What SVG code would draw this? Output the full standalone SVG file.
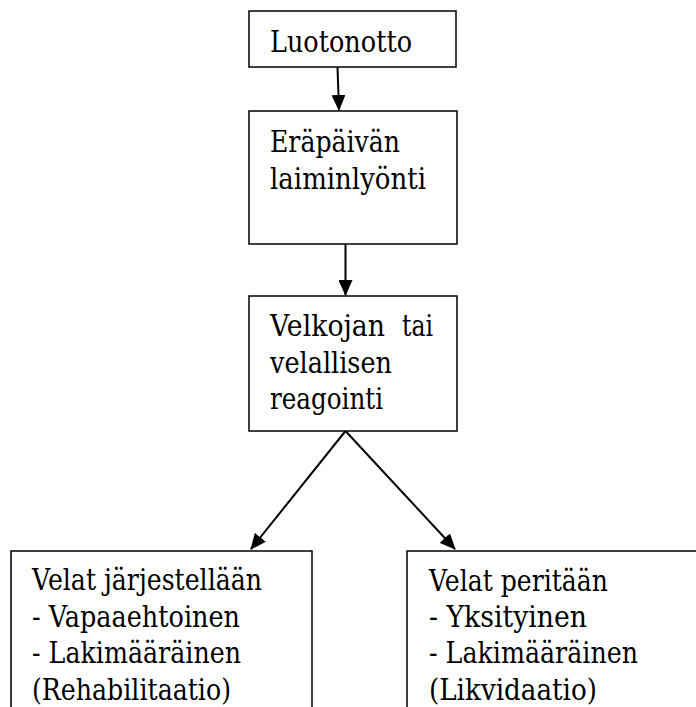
<svg xmlns="http://www.w3.org/2000/svg" width="696" height="707" viewBox="0 0 696 707">
<style>
.box{fill:#fff;stroke:#000;stroke-width:1.5}
.c{stroke:#000;stroke-width:2;fill:none}
text{font-family:'DejaVu Serif',serif;font-size:29px;fill:#000}
</style>
<defs>
<marker id="ah" markerWidth="16" markerHeight="14" refX="15" refY="7" orient="auto" markerUnits="userSpaceOnUse" viewBox="0 0 16 14">
<path d="M0,0 L16,7 L0,14 Z" fill="#000"/>
</marker>
</defs>
<rect width="696" height="707" fill="#fff"/>
<g id="connectors">
<line class="c" x1="337.5" y1="67" x2="339" y2="110" marker-end="url(#ah)"/>
<line class="c" x1="345.5" y1="244" x2="345.5" y2="295" marker-end="url(#ah)"/>
<line class="c" x1="345.5" y1="431" x2="251" y2="549" marker-end="url(#ah)"/>
<line class="c" x1="345.5" y1="431" x2="455" y2="549" marker-end="url(#ah)"/>
</g>
<g id="n1">
<rect class="box" x="249" y="11" width="207" height="56"/>
<text x="270" y="52" textLength="142" lengthAdjust="spacingAndGlyphs">Luotonotto</text>
</g>
<g id="n2">
<rect class="box" x="249" y="111" width="208" height="133"/>
<text x="270" y="152" textLength="130" lengthAdjust="spacingAndGlyphs">Eräpäivän</text>
<text x="270" y="189" textLength="156" lengthAdjust="spacingAndGlyphs">laiminlyönti</text>
</g>
<g id="n3">
<rect class="box" x="249" y="296" width="208" height="135"/>
<text x="270" y="336" textLength="115" lengthAdjust="spacingAndGlyphs">Velkojan</text>
<text x="402" y="336" textLength="31" lengthAdjust="spacingAndGlyphs">tai</text>
<text x="270" y="373" textLength="122" lengthAdjust="spacingAndGlyphs">velallisen</text>
<text x="270" y="409" textLength="113" lengthAdjust="spacingAndGlyphs">reagointi</text>
</g>
<g id="n4">
<path class="box" d="M11,708 L11,551 L312,551 L312,708"/>
<text x="32" y="590" textLength="230" lengthAdjust="spacingAndGlyphs">Velat järjestellään</text>
<text x="32" y="627" textLength="208" lengthAdjust="spacingAndGlyphs">- Vapaaehtoinen</text>
<text x="32" y="663" textLength="209" lengthAdjust="spacingAndGlyphs">- Lakimääräinen</text>
<text x="32" y="700" textLength="199" lengthAdjust="spacingAndGlyphs">(Rehabilitaatio)</text>
</g>
<g id="n5">
<path class="box" d="M407,708 L407,551 L697,551"/>
<text x="429" y="591" textLength="179" lengthAdjust="spacingAndGlyphs">Velat peritään</text>
<text x="429" y="627" textLength="158" lengthAdjust="spacingAndGlyphs">- Yksityinen</text>
<text x="429" y="663" textLength="209" lengthAdjust="spacingAndGlyphs">- Lakimääräinen</text>
<text x="429" y="700" textLength="168" lengthAdjust="spacingAndGlyphs">(Likvidaatio)</text>
</g>
</svg>
